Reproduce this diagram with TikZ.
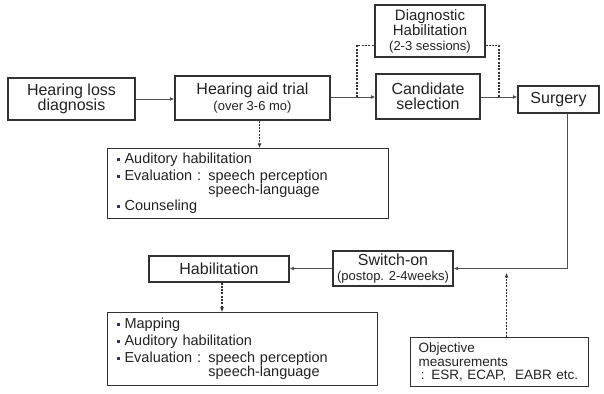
\documentclass[tikz,border=0pt]{standalone}
\usepackage{fontspec}
\setmainfont{Liberation Sans}
\usepackage{xcolor}
\usetikzlibrary{arrows.meta, positioning, calc}
\definecolor{ink}{RGB}{35,35,35}
\definecolor{frame}{RGB}{50,50,50}
\definecolor{wire}{RGB}{80,80,80}
\definecolor{navy}{RGB}{40,45,135}
\newcommand{\sqbul}{\textcolor{navy}{\rule[0.2em]{3pt}{3pt}}\hspace{5pt}}

\begin{document}
\begin{tikzpicture}[x=1pt, y=1pt,
  box/.style={draw=frame, line width=1.1pt, text=ink, inner sep=0pt, align=center},
  big/.style={font=\fontsize{16}{15.5}\selectfont},
  mid/.style={font=\fontsize{15}{15}\selectfont},
  list/.style={box, font=\fontsize{14.5}{17}\selectfont, align=left, inner xsep=9pt, anchor=north west},
  flow/.style={wire, line width=0.9pt, -{Latex[length=4.5pt,width=4pt]}},
  dots/.style={frame, line width=1.3pt, dash pattern=on 2pt off 1.3pt},
  dotflow/.style={dots, -{Latex[length=4.5pt,width=4pt]}}]
  \useasboundingbox[fill=white] (0,0) rectangle (604,393);
  % main row
  \node[box, big, minimum width=127, minimum height=42] (diag) at (71.5,294) {Hearing loss\\diagnosis};
  \node[box, big, minimum width=155, minimum height=44] (trial) at (252.5,295) {Hearing aid trial\\[1pt]{\fontsize{13}{13}\selectfont (over 3-6 mo)}};
  \node[box, big, minimum width=104, minimum height=45] (cand) at (428,296.5) {Candidate\\selection};
  \node[box, big, minimum width=81, minimum height=27] (surgery) at (558.5,293.5) {Surgery};
  \node[box, mid, minimum width=110, minimum height=52] (dxhab) at (430,362) {Diagnostic\\Habilitation\\{\fontsize{13}{13}\selectfont (2-3 sessions)}};
  % lower row
  \node[box, big, minimum width=120, minimum height=35] (switchon) at (393,124.5) {Switch-on\\{\fontsize{13}{13}\selectfont (postop. 2-4weeks)}};
  \node[box, big, minimum width=140, minimum height=26] (hab) at (219,124) {Habilitation};
  % task lists
  \node[list, text width=263, minimum height=70] (trialtasks) at (107,245) {%
    \sqbul Auditory habilitation\\
    \sqbul Evaluation : speech perception\\[-3pt]
    \phantom{\sqbul Evaluation : }speech-language\\[-1pt]
    \sqbul Counseling};
  \node[list, text width=252, minimum height=73] (habtasks) at (107,81) {%
    \sqbul Mapping\\
    \sqbul Auditory habilitation\\
    \sqbul Evaluation : speech perception\\[-3pt]
    \phantom{\sqbul Evaluation : }speech-language};
  \node[list, font=\fontsize{13.5}{13.5}\selectfont, inner xsep=8pt, text width=162, minimum height=49] (objective) at (410,56) {%
    Objective\\
    measurements\\
    \,: ESR, ECAP,\ \ EABR etc.};
  % connectors
  \coordinate (fork) at (357,296);
  \coordinate (join) at (499,296);
  \coordinate (ttop) at ([xshift=7pt]trial.south);
  \coordinate (sdown) at ([xshift=8.5pt]surgery.south);
  \coordinate (hbot) at ([xshift=3pt]hab.south);
  \coordinate (otop) at ([xshift=7pt]objective.north);
  \coordinate (otip) at ([yshift=64pt]otop);
  \draw[flow] (diag.east) -- (diag.east -| trial.west);
  \draw[flow] (trial.east |- fork) -- (fork -| cand.west);
  \draw[flow] (cand.east |- join) -- (join -| surgery.west);
  \draw[dots] (fork) |- ($(dxhab.south west)+(0,12)$);
  \draw[dots] ($(dxhab.south east)+(0,12)$) -| (join);
  \draw[dotflow] (ttop) -- (ttop |- trialtasks.north);
  \draw[flow] (sdown) |- (switchon.east);
  \draw[flow] (switchon.west) -- (switchon.west -| hab.east);
  \draw[dotflow] (hbot) -- (hbot |- habtasks.north);
  \draw[dotflow] (otop) -- (otip);
\end{tikzpicture}
\end{document}
